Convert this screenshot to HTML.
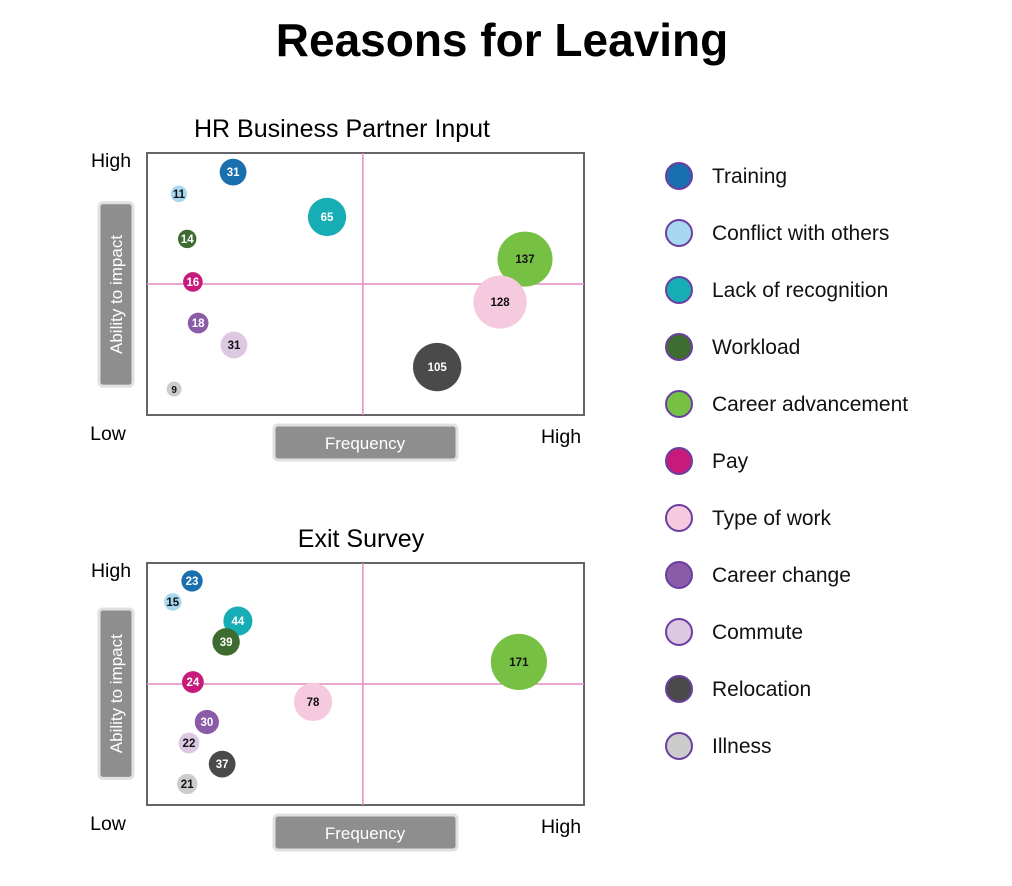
<!DOCTYPE html>
<html><head><meta charset="utf-8"><style>
body{margin:0;background:#fff;width:1012px;height:881px;overflow:hidden;font-family:"Liberation Sans",Arial,sans-serif}
svg text{font-family:"Liberation Sans",Arial,sans-serif}
</style></head><body>
<svg id="chart" width="1012" height="881" xmlns="http://www.w3.org/2000/svg">
<text x="502" y="56" text-anchor="middle" font-size="46" font-weight="bold">Reasons for Leaving</text>
<g id="legend"></g>
</svg>
<script>
const categories=["Training","Conflict with others","Lack of recognition","Workload","Career advancement","Pay","Type of work","Career change","Commute","Relocation","Illness"];
const colors=["#1a6faf","#a8d8f0","#17adb5","#3e6b30","#76c043","#c71a7b","#f5c9de","#8a5ca8","#ddc8e2","#4a4a4a","#cccccc"];
const darkText=[true,false,true,true,false,true,false,true,false,true,false];
const hrValues=[31,11,65,14,137,16,128,18,31,105,9];
const hrFreq=[19.7,7.3,41.2,9.2,86.5,10.5,80.8,11.7,19.9,66.4,6.2];
const hrImpact=[92.7,84.4,75.6,67.2,59.5,50.8,43.1,35.1,26.7,18.3,9.9];
const exitValues=[23,15,44,39,171,24,78,30,22,37,21];
const exitFreq=[10.3,5.9,20.8,18.1,85.1,10.5,38.0,13.7,9.6,17.2,9.2];
const exitImpact=[92.6,83.9,76.0,67.4,59.1,50.8,42.6,34.3,25.6,16.9,8.7];

const NS="http://www.w3.org/2000/svg";
const svg=document.getElementById('chart');
function mk(tag,attrs,parent){const e=document.createElementNS(NS,tag);for(const k in attrs)e.setAttribute(k,attrs[k]);(parent||svg).appendChild(e);return e;}

function panel(title,titleX,top,bottom,values,fx,fy,rf,key){
  const L=147,R=584;
  const xs=v=>L+(R-L)*v/100, ys=v=>bottom-(bottom-top)*v/100;
  const g=mk('g',{});
  
  
  const t=mk('text',{x:titleX,y:top-16,'text-anchor':'middle','font-size':25},g);t.textContent=title;
  
  
  const box=mk('rect',{x:L,y:top,width:R-L,height:bottom-top,fill:'#fff',stroke:'#666','stroke-width':2},g);
  
  
  const h=mk('line',{x1:L,x2:R,y1:ys(50),y2:ys(50),stroke:'#e48bc0','stroke-width':1.5},g);
  
  
  const v=mk('line',{x1:xs(49.4),x2:xs(49.4),y1:top,y2:bottom,stroke:'#e48bc0','stroke-width':1.5},g);
  
  
  const labs=[["High",111,top+14,'y-high'],["Low",108,bottom+25,'y-low'],["High",561,bottom+28,'x-high']];
  labs.forEach(a=>{const e=mk('text',{x:a[1],y:a[2],'text-anchor':'middle','font-size':19.5},g);e.textContent=a[0];
    
    });
  const ybh=(bottom-top)*0.7, yby=top+(bottom-top)*0.19;
  const yb=mk('rect',{x:99,y:yby,width:34,height:ybh,rx:4,fill:'#8e8e8e',stroke:'#e0e0e0','stroke-width':3},g);
  
  
  const yt=mk('text',{x:0,y:0,'text-anchor':'middle','font-size':17,fill:'#fff',transform:`translate(122,${yby+ybh/2}) rotate(-90)`},g);yt.textContent="Ability to impact";
  
  
  const xb=mk('rect',{x:274,y:bottom+10,width:183,height:35,rx:4,fill:'#8e8e8e',stroke:'#e0e0e0','stroke-width':3},g);
  
  
  const xt=mk('text',{x:365,y:bottom+34,'text-anchor':'middle','font-size':17,fill:'#fff'},g);xt.textContent="Frequency";
  
  
  values.forEach((val,i)=>{
    const cx=xs(fx[i]),cy=ys(fy[i]),r=Math.max(5,rf*Math.sqrt(val)+0.6);
    const c=mk('circle',{cx:cx,cy:cy,r:r,fill:colors[i]},g);
    
    
    const tx=mk('text',{x:cx,y:cy+4,'text-anchor':'middle','font-size':r<8?10:11.5,'font-weight':'bold',fill:darkText[i]?'#fff':'#111'},g);tx.textContent=val;
    
    
  });
}
panel("HR Business Partner Input",342,153,415,hrValues,hrFreq,hrImpact,2.3,'hr');
panel("Exit Survey",361,563,805,exitValues,exitFreq,exitImpact,2.1,'exit');

const lg=document.getElementById('legend');
categories.forEach((c,i)=>{
  const y=176+57*i;
  const ci=mk('circle',{cx:679,cy:y,r:13,fill:colors[i],stroke:'#6b3fa0','stroke-width':2},lg);
  
  
  const t=mk('text',{x:712,y:y+7,'font-size':21,fill:'#111'},lg);t.textContent=c;
  
  
});
</script>
</body></html>
